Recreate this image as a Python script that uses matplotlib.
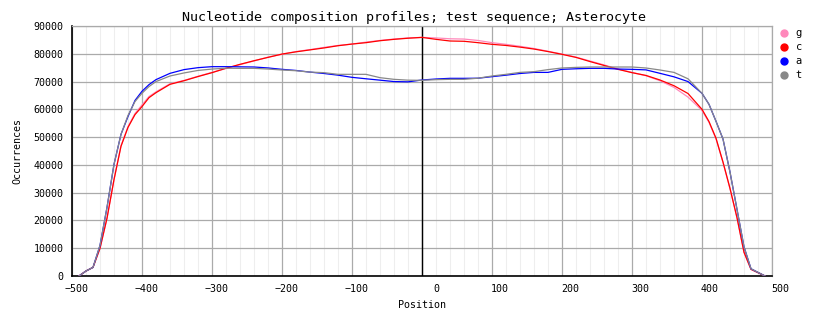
import matplotlib
matplotlib.use("Agg")
import matplotlib.pyplot as plt
from matplotlib.ticker import MultipleLocator
from matplotlib.transforms import ScaledTranslation

# positions along the sequence
position = [-490, -480, -470, -460, -450, -440, -430, -420, -410, -400,
            -390, -380, -360, -340, -320, -300, -280, -260, -240, -220,
            -200, -180, -160, -140, -120, -100, -80, -60, -40, -20,
            0, 20, 40, 60, 80, 100, 120, 140, 160, 180,
            200, 220, 240, 260, 280, 300, 320, 340, 360, 380,
            400, 410, 420, 430, 440, 450, 460, 470, 480, 490]

count_c = [0, 1800, 3100, 9960, 20800, 34700, 46700, 53500, 58100, 61000,
           64200, 66000, 69000, 70300, 71800, 73200, 74800, 76200, 77500, 78700,
           79900, 80700, 81400, 82100, 82900, 83500, 84000, 84700, 85200, 85600,
           85900, 85200, 84600, 84500, 84000, 83400, 83000, 82400, 81700, 80800,
           79800, 78700, 77200, 75800, 74400, 73200, 72200, 70560, 68500, 65700,
           60000, 55600, 49600, 41000, 31560, 21000, 8560, 2400, 1200, 0]

count_g = [0, 1800, 3100, 9960, 20800, 34700, 46900, 53800, 58500, 61600,
           64600, 66300, 69200, 70400, 71900, 73300, 74700, 76100, 77400, 78800,
           79800, 80800, 81500, 82300, 83000, 83500, 84200, 84800, 85300, 85700,
           85900, 85700, 85400, 85300, 84800, 84000, 83400, 82700, 81900, 80900,
           79900, 78800, 77400, 76000, 74500, 73300, 72100, 70300, 67900, 64400,
           59600, 55300, 49400, 40900, 31400, 20900, 8500, 2400, 1200, 0]

count_a = [0, 1800, 3100, 11000, 24700, 40200, 51000, 57400, 63200, 66500,
           68900, 70700, 72960, 74300, 75000, 75360, 75360, 75300, 75240, 74900,
           74400, 74000, 73400, 72900, 72300, 71520, 71000, 70500, 70000, 69900,
           70560, 70920, 71160, 71160, 71200, 71760, 72300, 72900, 73300, 73300,
           74400, 74600, 74760, 74760, 74500, 74400, 74200, 72960, 71700, 70000,
           65760, 61800, 55700, 49300, 37400, 24000, 10500, 2600, 1300, 0]

count_t = [0, 1800, 3100, 11000, 24700, 40200, 51000, 57800, 62800, 65800,
           68200, 70000, 72000, 73100, 74000, 74500, 74800, 74760, 74760, 74500,
           74160, 73900, 73400, 73200, 72600, 72600, 72600, 71400, 70800, 70500,
           70440, 70680, 70800, 70800, 71200, 72000, 72600, 73300, 73560, 74300,
           74880, 75100, 75240, 75240, 75240, 75240, 74880, 74160, 73300, 71000,
           65760, 61800, 55700, 49300, 37400, 24000, 10500, 2600, 1300, 0]

series_names = ["g", "c", "a", "t"]
series_colors = ["#ff88bb", "#ff0000", "#0000ff", "#888888"]
series_values = [count_g, count_c, count_a, count_t]

mono = "DejaVu Sans Mono"

fig = plt.figure(figsize=(8.28, 3.28), dpi=100)
ax = fig.add_axes([72 / 828, 52 / 328, 700 / 828, 250 / 328])

ax.set_xlim(-500, 500)
ax.set_ylim(0, 90000)
ax.xaxis.set_major_locator(MultipleLocator(100))
ax.xaxis.set_minor_locator(MultipleLocator(20))
ax.yaxis.set_major_locator(MultipleLocator(10000))

ax.grid(which="minor", axis="x", color="#eeeeee", lw=0.8)
ax.grid(which="major", color="#aaaaaa", lw=0.9)
ax.set_axisbelow(True)
ax.tick_params(which="both", length=0, labelsize=7.2)
ax.tick_params(axis="x", pad=6)
ax.tick_params(axis="y", pad=6)

for lab in ax.get_xticklabels() + ax.get_yticklabels():
    lab.set_family(mono)

# x labels sit right-aligned a bit to the right of their tick
shift = ScaledTranslation(17 / 100, 0, fig.dpi_scale_trans)
for lab in ax.get_xticklabels():
    lab.set_horizontalalignment("right")
    lab.set_transform(lab.get_transform() + shift)

for side in ["top", "right"]:
    ax.spines[side].set_color("#aaaaaa")
    ax.spines[side].set_linewidth(0.9)
for side in ["left", "bottom"]:
    ax.spines[side].set_color("black")
    ax.spines[side].set_linewidth(1.2)

ax.axvline(0, color="black", lw=1.0, zorder=1.5)

for name, col, vals in zip(series_names, series_colors, series_values):
    ax.plot(position, vals, color=col, lw=0.9, zorder=3)

ax.set_xlabel("Position", family=mono, fontsize=7.2, labelpad=4)
ax.set_ylabel("Occurrences", family=mono, fontsize=7.2, labelpad=8)
fig.text(0.5, 1 - 18 / 328, "Nucleotide composition profiles; test sequence; Asterocyte",
         ha="center", va="center", family=mono, fontsize=9.6)

# legend on the right
for i, (name, col) in enumerate(zip(series_names, series_colors)):
    y = 1 - (33 + i * 14) / 328
    fig.lines.append(plt.Line2D([784 / 828], [y], transform=fig.transFigure,
                                marker="o", ms=5, color=col, lw=0))
    fig.text(799 / 828, y, name, ha="center", va="center", family=mono, fontsize=7.5)

fig.savefig("out.png", dpi=100, facecolor="white")
